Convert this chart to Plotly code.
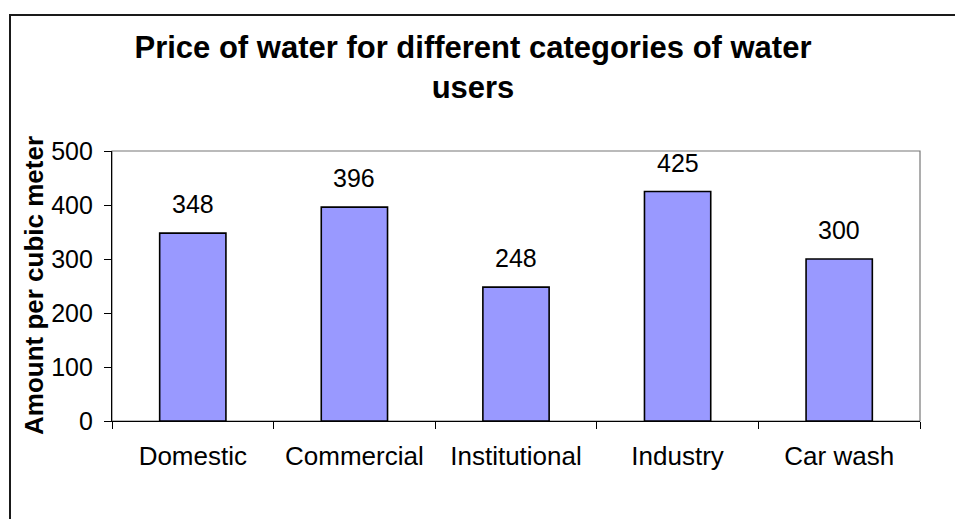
import plotly.graph_objects as go

categories = ["Domestic", "Commercial", "Institutional", "Industry", "Car wash"]
values = [348, 396, 248, 425, 300]
y_ticks = [0, 100, 200, 300, 400, 500]

W, H = 955, 519
L, R, T, B = 112, 35, 151, 98
pw, ph = W - L - R, H - T - B

font_family = "Arial, Liberation Sans, sans-serif"

fig = go.Figure()
fig.add_trace(go.Bar(
    x=categories, y=values,
    marker=dict(color="#9999FF", line=dict(color="#000000", width=1.6)),
    hoverinfo="skip",
))

annotations = []
for c, v in zip(categories, values):
    annotations.append(dict(
        x=c, y=v, xref="x", yref="y", text=str(v), showarrow=False,
        yanchor="bottom", yshift=13,
        font=dict(family=font_family, size=25, color="#000000"),
    ))
annotations.append(dict(
    x=(34 - L) / pw, y=0.5, xref="paper", yref="paper",
    text="<b>Amount per cubic meter</b>", textangle=-90, showarrow=False,
    xanchor="center", yanchor="middle",
    font=dict(family=font_family, size=26, color="#000000"),
))

shapes = [
    # plot area box (gray)
    dict(type="rect", xref="paper", yref="paper", x0=0, x1=1, y0=0, y1=1,
         line=dict(color="#777777", width=1.2), layer="below"),
    # outer chart border
    dict(type="rect", xref="paper", yref="paper",
         x0=(10 - L) / pw, x1=2, y0=-2, y1=(H - B - 15) / ph,
         line=dict(color="#1a1a1a", width=2), layer="below"),
]

fig.update_layout(
    width=W, height=H,
    margin=dict(l=L, r=R, t=T, b=B),
    paper_bgcolor="white", plot_bgcolor="white",
    showlegend=False,
    bargap=0.59,
    title=dict(
        text="<b>Price of water for different categories of water<br>users</b>",
        x=473 / W, xref="container", xanchor="center",
        y=1 - 58 / H, yref="container", yanchor="top",
        font=dict(family=font_family, size=31, color="#000000"),
    ),
    annotations=annotations,
    shapes=shapes,
)

fig.update_xaxes(
    type="category", tickson="boundaries",
    showline=True, linecolor="#000000", linewidth=1.2,
    ticks="outside", ticklen=7, tickcolor="#000000", tickwidth=1.2,
    showgrid=False, zeroline=False,
    tickfont=dict(family=font_family, size=26, color="#000000"),
    ticklabelstandoff=12,
)
fig.update_yaxes(
    range=[0, 500], tickvals=y_ticks,
    showline=True, linecolor="#000000", linewidth=1.2,
    ticks="outside", ticklen=7, tickcolor="#000000", tickwidth=1.2,
    showgrid=False, zeroline=False,
    tickfont=dict(family=font_family, size=25, color="#000000"),
    ticklabelstandoff=6,
)

fig.write_html("out.html")
